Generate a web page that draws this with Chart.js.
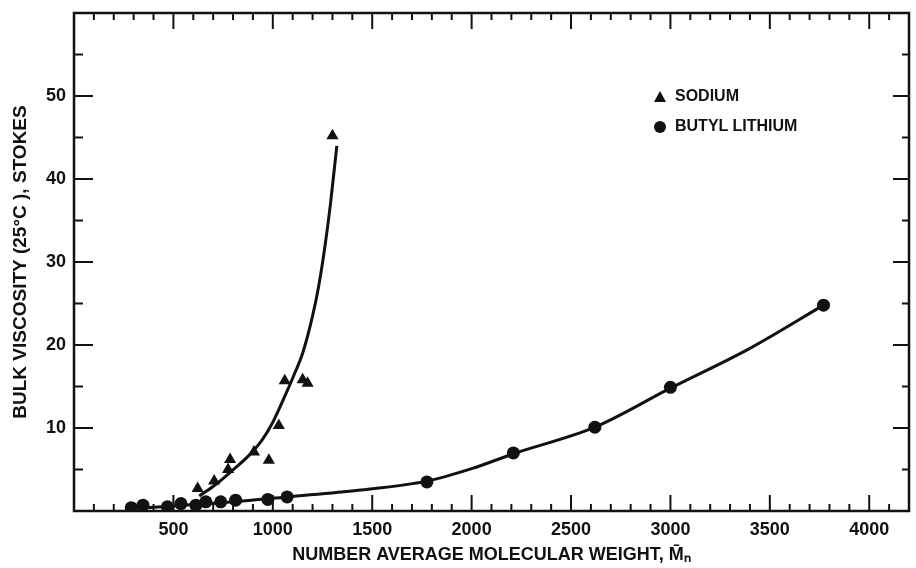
<!DOCTYPE html>
<html lang="en">
<head>
    <meta charset="UTF-8">
    <script src="https://cdn.jsdelivr.net/npm/chart.js"></script>
    <style>
        body {
            margin: 0;
            padding: 0;
            background-color: #fff;
        }
        .wrap {
            position: relative;
            width: 916px;
            height: 568px;
        }
        .legend-row {
            position: absolute;
            left: 675px;
            height: 20px;
            line-height: 20px;
            font: bold 16px "Liberation Sans", Arial, sans-serif;
            color: #111;
            white-space: nowrap;
        }
        .mark {
            position: absolute;
            background-color: #111;
        }
        .tri {
            position: absolute;
            width: 0;
            height: 0;
            border-left: 6px solid transparent;
            border-right: 6px solid transparent;
            border-bottom: 11px solid #111;
        }
    </style>
</head>
<body>
    <div class="wrap">
        <canvas id="viscChart" width="916" height="568"></canvas>
        <div class="tri" style="left:654px; top:91px;"></div>
        <div class="legend-row" style="top:87px;">SODIUM</div>
        <div class="mark" style="left:654px; top:121px; width:12px; height:12px; border-radius:50%;"></div>
        <div class="legend-row" style="top:117px;">BUTYL LITHIUM</div>
    </div>
    <script>
        const sodiumMn = [622, 705, 775, 785, 905, 980, 1030, 1060, 1150, 1175, 1300];
        const sodiumVisc = [2.7, 3.6, 5.0, 6.2, 7.1, 6.1, 10.3, 15.7, 15.8, 15.4, 45.2];

        const butylMn = [288, 347, 470, 538, 613, 663, 738, 813, 975, 1072, 1775, 2210, 2620, 3000, 3770];
        const butylVisc = [0.4, 0.7, 0.5, 0.9, 0.7, 1.1, 1.1, 1.3, 1.4, 1.7, 3.5, 7.0, 10.1, 14.9, 24.8];

        // drawn curves
        const sodiumCurveMn = [630, 713, 797, 880, 950, 1000, 1060, 1105, 1150, 1200, 1230, 1260, 1290, 1322];
        const sodiumCurveVisc = [1.8, 3.2, 4.9, 6.7, 8.7, 10.7, 13.8, 16.3, 19.0, 23.5, 27.0, 31.5, 37.0, 44.0];

        const butylCurveMn = [290, 500, 800, 1072, 1430, 1775, 2000, 2210, 2620, 3000, 3400, 3770];
        const butylCurveVisc = [0.3, 0.6, 1.1, 1.7, 2.5, 3.6, 5.1, 6.9, 10.1, 14.8, 19.6, 24.8];

        // axis labels
        const xLabels = [500, 1000, 1500, 2000, 2500, 3000, 3500, 4000];
        const yLabels = [10, 20, 30, 40, 50];

        const xMax = 4200;
        const yMax = 60;

        const toXY = (xs, ys) => xs.map((v, i) => ({ x: v, y: ys[i] }));

        // frame + inward ticks on all four sides
        const frameTicks = {
            id: 'frameTicks',
            beforeDatasetsDraw(chart) {
                const { ctx, chartArea: a, scales: { x, y } } = chart;
                ctx.save();
                ctx.strokeStyle = '#111';
                ctx.lineWidth = 2.5;
                ctx.strokeRect(a.left, a.top, a.right - a.left, a.bottom - a.top);
                ctx.lineWidth = 2;
                ctx.beginPath();
                for (let v = 100; v < xMax; v += 100) {
                    const px = x.getPixelForValue(v);
                    const len = v % 500 === 0 ? 16 : 7;
                    ctx.moveTo(px, a.bottom);
                    ctx.lineTo(px, a.bottom - len);
                    ctx.moveTo(px, a.top);
                    ctx.lineTo(px, a.top + len);
                }
                for (let v = 5; v < yMax; v += 5) {
                    const py = y.getPixelForValue(v);
                    const major = v % 10 === 0;
                    ctx.moveTo(a.left, py);
                    ctx.lineTo(a.left + (major ? 19 : 9), py);
                    ctx.moveTo(a.right, py);
                    ctx.lineTo(a.right - (major ? 16 : 7), py);
                }
                ctx.stroke();
                ctx.restore();
            }
        };

        const tickFont = { family: '"Liberation Sans", Arial, sans-serif', size: 18, weight: 'bold' };

        new Chart(document.getElementById('viscChart'), {
            type: 'scatter',
            data: {
                datasets: [
                    {
                        label: 'SODIUM',
                        data: toXY(sodiumMn, sodiumVisc),
                        pointStyle: 'triangle',
                        pointRadius: 7,
                        backgroundColor: '#111',
                        borderColor: '#111',
                        borderWidth: 0
                    },
                    {
                        label: 'BUTYL LITHIUM',
                        data: toXY(butylMn, butylVisc),
                        pointStyle: 'circle',
                        pointRadius: 6.5,
                        backgroundColor: '#111',
                        borderColor: '#111',
                        borderWidth: 0
                    },
                    {
                        label: 'sodium curve',
                        data: toXY(sodiumCurveMn, sodiumCurveVisc),
                        showLine: true,
                        pointRadius: 0,
                        borderColor: '#111',
                        borderWidth: 3,
                        cubicInterpolationMode: 'monotone'
                    },
                    {
                        label: 'butyl curve',
                        data: toXY(butylCurveMn, butylCurveVisc),
                        showLine: true,
                        pointRadius: 0,
                        borderColor: '#111',
                        borderWidth: 3,
                        cubicInterpolationMode: 'monotone'
                    }
                ]
            },
            options: {
                responsive: false,
                animation: false,
                devicePixelRatio: 1,
                layout: { padding: { top: 13, right: 2, left: 0, bottom: 0 } },
                plugins: {
                    legend: { display: false },
                    tooltip: { enabled: false }
                },
                scales: {
                    x: {
                        type: 'linear',
                        min: 0,
                        max: xMax,
                        grid: { display: false },
                        border: { display: false },
                        afterBuildTicks: s => { s.ticks = xLabels.map(v => ({ value: v })); },
                        ticks: {
                            padding: 0,
                            color: '#111',
                            font: tickFont,
                            callback: v => String(v)
                        },
                        title: {
                            display: true,
                            text: 'NUMBER AVERAGE MOLECULAR WEIGHT, M\u0304\u2099',
                            color: '#111',
                            font: tickFont,
                            padding: { top: 0, bottom: 2 }
                        },
                        afterFit: s => { s.height = 57; }
                    },
                    y: {
                        min: 0,
                        max: yMax,
                        grid: { display: false },
                        border: { display: false },
                        afterBuildTicks: s => { s.ticks = yLabels.map(v => ({ value: v })); },
                        ticks: {
                            padding: 0,
                            color: '#111',
                            font: tickFont,
                            callback: v => String(v)
                        },
                        title: {
                            display: true,
                            text: 'BULK VISCOSITY (25\u00B0C ), STOKES',
                            color: '#111',
                            font: { family: '"Liberation Sans", Arial, sans-serif', size: 19, weight: 'bold' },
                            padding: { top: 9, bottom: 0 }
                        },
                        afterFit: s => { s.width = 74; }
                    }
                }
            },
            plugins: [frameTicks]
        });
    </script>
</body>
</html>
